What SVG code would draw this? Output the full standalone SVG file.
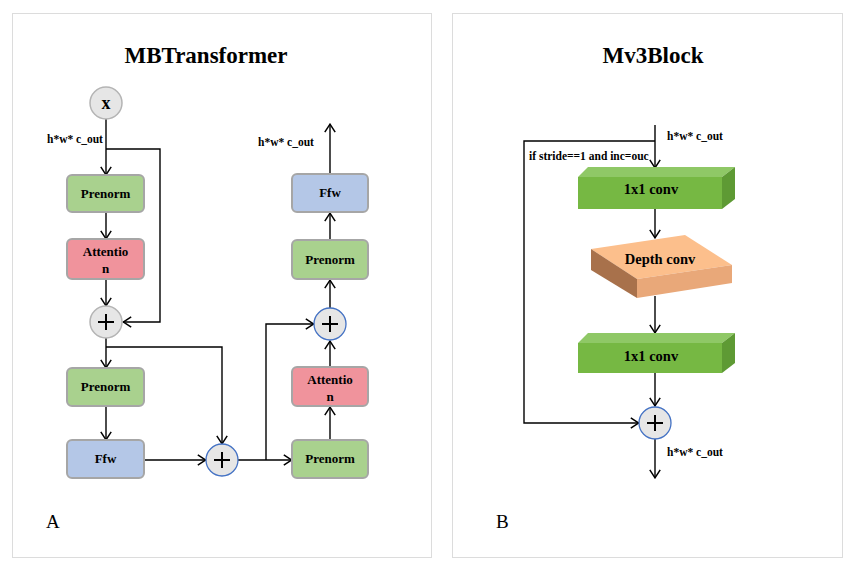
<svg xmlns="http://www.w3.org/2000/svg" width="856" height="575" viewBox="0 0 856 575">
<defs>
<marker id="ar" viewBox="0 0 10 12" refX="9.2" refY="6" markerWidth="10" markerHeight="12" markerUnits="userSpaceOnUse" orient="auto">
<path d="M1,0.8 L9,6 L1,11.2" fill="none" stroke="#000" stroke-width="1.5"/>
</marker>
</defs>
<style>
.panel{fill:#fff;stroke:#dcdcdc;stroke-width:1}
.title{font-family:"Liberation Serif",serif;font-weight:bold;font-size:23px;text-anchor:middle;fill:#000}
.lbl{font-family:"Liberation Serif",serif;font-weight:bold;font-size:13px;text-anchor:middle;fill:#000}
.cv{font-size:14.5px}
.sm{font-family:"Liberation Serif",serif;font-weight:bold;font-size:11.5px;fill:#000}
.big{font-family:"Liberation Serif",serif;font-size:19px;fill:#000}
.box{stroke:#a6a6a6;stroke-width:2}
.pn{fill:#a9d18e}
.at{fill:#f0939c}
.ff{fill:#b4c7e7}
.add{fill:#e6e6e6;stroke:#4472c4;stroke-width:1.3}
.addg{fill:#e6e6e6;stroke:#b4b4b4;stroke-width:1.5}
.plus{stroke:#000;stroke-width:2}
.arr{fill:none;stroke:#000;stroke-width:1.4;marker-end:url(#ar)}
</style>
<rect class="panel" x="12.5" y="13.5" width="419" height="544"/>
<rect class="panel" x="452.5" y="13.5" width="390" height="544"/>
<text class="title" x="206" y="63">MBTransformer</text>
<text class="title" x="653" y="63">Mv3Block</text>
<text class="big" x="46" y="528">A</text>
<text class="big" x="496" y="528">B</text>

<g id="connectors">
<line class="arr" x1="106" y1="119" x2="106" y2="175"/>
<polyline class="arr" points="106,149 160,149 160,322 123,322"/>
<line class="arr" x1="106" y1="212" x2="106" y2="239"/>
<line class="arr" x1="106" y1="279" x2="106" y2="306"/>
<line class="arr" x1="106" y1="338" x2="106" y2="368"/>
<polyline class="arr" points="106,347 222,347 222,444"/>
<line class="arr" x1="106" y1="406" x2="106" y2="440"/>
<line class="arr" x1="144" y1="460" x2="206" y2="460"/>
<line class="arr" x1="238" y1="460" x2="292" y2="460"/>
<polyline class="arr" points="266,460 266,324 314,324"/>
<line class="arr" x1="330" y1="440" x2="330" y2="407"/>
<line class="arr" x1="330" y1="367" x2="330" y2="341"/>
<line class="arr" x1="330" y1="308" x2="330" y2="280"/>
<line class="arr" x1="330" y1="240" x2="330" y2="213"/>
<line class="arr" x1="330" y1="174" x2="330" y2="124"/>
<text class="sm" x="47" y="143">h*w* c_out</text>
<text class="sm" x="258" y="146">h*w* c_out</text>

<line class="arr" x1="655" y1="125" x2="655" y2="168"/>
<polyline class="arr" points="655,141 524,141 524,423 639,423"/>
<line class="arr" x1="655" y1="209" x2="655" y2="238"/>
<line class="arr" x1="655" y1="296" x2="655" y2="333"/>
<line class="arr" x1="655" y1="373" x2="655" y2="406"/>
<line class="arr" x1="655" y1="439" x2="655" y2="478"/>
<text class="sm" x="667" y="140">h*w* c_out</text>
<text class="sm" x="529" y="160">if stride==1 and inc=ouc</text>
<text class="sm" x="667" y="456">h*w* c_out</text>
</g>

<g id="x-input"><circle class="addg" cx="106" cy="103" r="16"/><text class="lbl" x="106" y="109" style="font-size:18px">x</text></g>
<g id="prenorm1"><rect class="box pn" x="67" y="175" width="77" height="37" rx="5"/><text class="lbl" x="105.5" y="198">Prenorm</text></g>
<g id="attention1"><rect class="box at" x="67" y="239" width="77" height="40" rx="5"/><text class="lbl" x="105.5" y="256">Attentio</text><text class="lbl" x="105.5" y="273">n</text></g>
<g id="add1"><circle class="addg" cx="106" cy="322" r="16"/><path class="plus" d="M98,322 H114 M106,314 V330"/></g>
<g id="prenorm2"><rect class="box pn" x="67" y="368" width="77" height="38" rx="5"/><text class="lbl" x="105.5" y="391">Prenorm</text></g>
<g id="ffw1"><rect class="box ff" x="67" y="440" width="77" height="38" rx="5"/><text class="lbl" x="105.5" y="463">Ffw</text></g>
<g id="add2"><circle class="add" cx="222" cy="460" r="16"/><path class="plus" d="M214,460 H230 M222,452 V468"/></g>
<g id="prenorm3"><rect class="box pn" x="292" y="440" width="76" height="38" rx="5"/><text class="lbl" x="330" y="463">Prenorm</text></g>
<g id="attention2"><rect class="box at" x="292" y="367" width="76" height="39" rx="5"/><text class="lbl" x="330" y="384">Attentio</text><text class="lbl" x="330" y="401">n</text></g>
<g id="add3"><circle class="add" cx="330" cy="324" r="16"/><path class="plus" d="M322,324 H338 M330,316 V332"/></g>
<g id="prenorm4"><rect class="box pn" x="292" y="240" width="76" height="39" rx="5"/><text class="lbl" x="330" y="264">Prenorm</text></g>
<g id="ffw2"><rect class="box ff" x="292" y="174" width="76" height="38" rx="5"/><text class="lbl" x="330" y="197">Ffw</text></g>

<g id="conv1">
<polygon points="578,177 588,167 735,167 722,177" fill="#8fc866"/>
<polygon points="722,177 735,167 735,199 722,209" fill="#5e9a34"/>
<rect x="578" y="177" width="144" height="32" fill="#76b843"/>
<text class="lbl cv" x="651" y="194">1x1 conv</text>
</g>
<g id="depthconv">
<polygon points="591,249 685,235 732,265 637,279" fill="#fcbf8c"/>
<polygon points="591,249 637,279 637,298 591,270" fill="#a8714b"/>
<polygon points="637,279 732,265 732,283 637,298" fill="#e9a879"/>
<text class="lbl cv" x="660" y="264">Depth conv</text>
</g>
<g id="conv2">
<polygon points="578,343 588,333 735,333 722,343" fill="#8fc866"/>
<polygon points="722,343 735,333 735,363 722,373" fill="#5e9a34"/>
<rect x="578" y="343" width="144" height="30" fill="#76b843"/>
<text class="lbl cv" x="651" y="361">1x1 conv</text>
</g>
<g id="add4"><circle class="add" cx="655" cy="423" r="16"/><path class="plus" d="M647,423 H663 M655,415 V431"/></g>
</svg>
